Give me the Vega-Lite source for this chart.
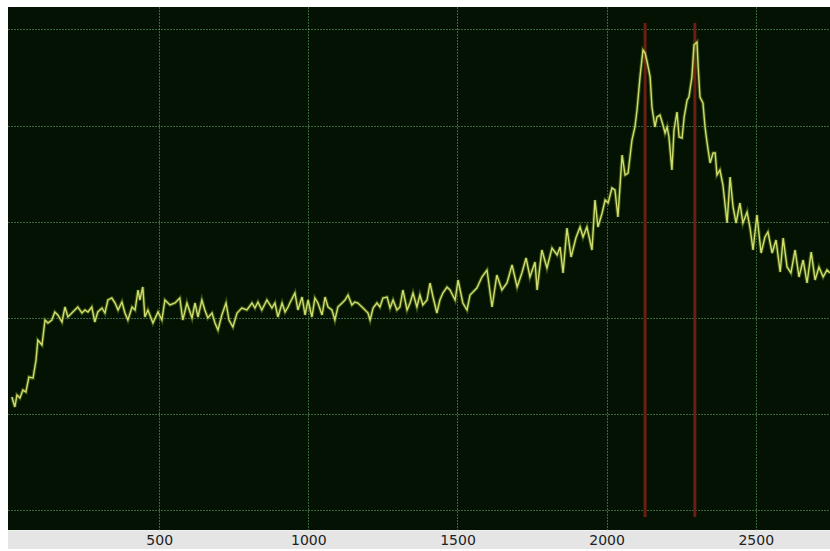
{
  "$schema": "https://vega.github.io/schema/vega-lite/v6.json",
  "width": 822,
  "height": 523,
  "autosize": {"type": "none"},
  "padding": {"left": 8, "top": 7, "right": 0, "bottom": 21},
  "background": "white",
  "config": {"view": {"fill": "#031203", "stroke": null}},
  "datasets": {
    "spectrum": [
      {"x":6,"y":113},{"x":16,"y":103},{"x":23,"y":115},{"x":33,"y":112},{"x":43,"y":120},{"x":53,"y":118},{"x":63,"y":133},{"x":77,"y":132},{"x":87,"y":150},{"x":93,"y":170},{"x":107,"y":165},{"x":117,"y":190},{"x":127,"y":187},{"x":140,"y":190},{"x":150,"y":198},{"x":160,"y":195},{"x":174,"y":188},{"x":184,"y":203},{"x":194,"y":193},{"x":207,"y":197},{"x":217,"y":200},{"x":227,"y":203},{"x":241,"y":197},{"x":251,"y":200},{"x":261,"y":198},{"x":274,"y":203},{"x":284,"y":188},{"x":294,"y":198},{"x":308,"y":202},{"x":318,"y":197},{"x":328,"y":210},{"x":341,"y":212},{"x":352,"y":207},{"x":362,"y":200},{"x":375,"y":208},{"x":385,"y":197},{"x":395,"y":190},{"x":409,"y":203},{"x":419,"y":200},{"x":429,"y":220},
      {"x":435,"y":210},{"x":445,"y":223},{"x":452,"y":193},{"x":462,"y":200},{"x":479,"y":187},{"x":496,"y":198},{"x":509,"y":190},{"x":519,"y":210},{"x":536,"y":205},{"x":553,"y":207},{"x":569,"y":212},{"x":579,"y":190},{"x":593,"y":207},{"x":610,"y":192},{"x":620,"y":207},{"x":630,"y":193},{"x":643,"y":210},{"x":653,"y":200},{"x":663,"y":192},{"x":677,"y":197},{"x":687,"y":187},{"x":697,"y":180},{"x":710,"y":195},{"x":724,"y":207},{"x":734,"y":190},{"x":747,"y":183},{"x":761,"y":197},{"x":777,"y":202},{"x":794,"y":200},{"x":811,"y":207},{"x":821,"y":202},{"x":831,"y":208},{"x":844,"y":200},{"x":861,"y":210},{"x":878,"y":202},{"x":888,"y":207},{"x":898,"y":193},{"x":912,"y":207},{"x":922,"y":198},{"x":932,"y":203},
      {"x":938,"y":207},{"x":955,"y":217},{"x":965,"y":200},{"x":979,"y":213},{"x":989,"y":195},{"x":999,"y":210},{"x":1012,"y":193},{"x":1022,"y":212},{"x":1032,"y":207},{"x":1046,"y":195},{"x":1056,"y":213},{"x":1066,"y":203},{"x":1079,"y":200},{"x":1089,"y":190},{"x":1099,"y":203},{"x":1113,"y":207},{"x":1123,"y":210},{"x":1133,"y":215},{"x":1146,"y":205},{"x":1156,"y":208},{"x":1166,"y":207},{"x":1180,"y":203},{"x":1190,"y":200},{"x":1200,"y":197},{"x":1207,"y":190},{"x":1217,"y":202},{"x":1230,"y":207},{"x":1240,"y":203},{"x":1250,"y":212},{"x":1264,"y":213},{"x":1274,"y":202},{"x":1284,"y":210},{"x":1297,"y":200},{"x":1307,"y":203},{"x":1317,"y":220},{"x":1331,"y":200},{"x":1341,"y":207},{"x":1351,"y":217},{"x":1364,"y":203},{"x":1374,"y":215},{"x":1384,"y":205},{"x":1398,"y":210},{"x":1408,"y":227},{"x":1418,"y":213},{"x":1431,"y":197},{"x":1441,"y":210},{"x":1451,"y":217},{"x":1465,"y":223},{"x":1475,"y":220},
      {"x":1492,"y":210},{"x":1502,"y":230},{"x":1518,"y":207},{"x":1532,"y":200},{"x":1542,"y":215},{"x":1565,"y":222},{"x":1582,"y":233},{"x":1599,"y":240},{"x":1616,"y":203},{"x":1632,"y":235},{"x":1649,"y":220},{"x":1666,"y":227},{"x":1683,"y":245},{"x":1700,"y":223},{"x":1716,"y":237},{"x":1730,"y":252},{"x":1743,"y":233},{"x":1760,"y":248},{"x":1767,"y":220},{"x":1783,"y":260},{"x":1800,"y":242},{"x":1817,"y":262},{"x":1834,"y":255},{"x":1844,"y":263},{"x":1854,"y":237},{"x":1867,"y":282},{"x":1881,"y":253},{"x":1897,"y":272},{"x":1911,"y":283},{"x":1921,"y":273},{"x":1934,"y":283},{"x":1951,"y":260},{"x":1961,"y":310},{"x":1971,"y":283},{"x":1985,"y":297},{"x":1995,"y":310},
      {"x":2005,"y":307},{"x":2018,"y":322},{"x":2028,"y":320},{"x":2038,"y":293},{"x":2052,"y":355},{"x":2062,"y":335},{"x":2072,"y":337},{"x":2085,"y":370},{"x":2095,"y":383},{"x":2102,"y":400},{"x":2112,"y":433},{"x":2122,"y":460},{"x":2129,"y":457},{"x":2136,"y":448},{"x":2146,"y":433},{"x":2152,"y":403},{"x":2162,"y":383},{"x":2169,"y":393},{"x":2179,"y":395},{"x":2189,"y":385},{"x":2196,"y":377},{"x":2203,"y":383},{"x":2209,"y":373},{"x":2219,"y":340},{"x":2226,"y":380},{"x":2236,"y":398},{"x":2243,"y":373},{"x":2253,"y":372},{"x":2260,"y":393},{"x":2270,"y":410},{"x":2276,"y":413},{"x":2286,"y":433},{"x":2293,"y":465},{"x":2303,"y":468},{"x":2307,"y":443},{"x":2313,"y":413},{"x":2323,"y":407},{"x":2330,"y":383},{"x":2337,"y":367},{"x":2347,"y":347},{"x":2357,"y":357},{"x":2364,"y":357},{"x":2370,"y":335},
      {"x":2380,"y":340},{"x":2390,"y":325},{"x":2404,"y":287},{"x":2414,"y":333},{"x":2424,"y":303},{"x":2434,"y":287},{"x":2447,"y":307},{"x":2457,"y":287},{"x":2471,"y":298},{"x":2481,"y":282},{"x":2491,"y":260},{"x":2504,"y":295},{"x":2518,"y":257},{"x":2531,"y":273},{"x":2541,"y":278},{"x":2555,"y":257},{"x":2568,"y":270},{"x":2582,"y":238},{"x":2592,"y":272},{"x":2605,"y":243},{"x":2618,"y":237},{"x":2632,"y":260},{"x":2645,"y":233},{"x":2659,"y":250},{"x":2672,"y":227},{"x":2686,"y":258},{"x":2699,"y":230},{"x":2712,"y":243},{"x":2726,"y":233},{"x":2739,"y":240},{"x":2749,"y":237}
    ],
    "markers": [{"x": 2129}, {"x": 2296}],
    "strip": [{"x0": -7, "x1": 2749}]
  },
  "resolve": {"axis": {"x": "independent"}},
  "layer": [
    {
      "data": {"name": "markers"},
      "mark": {"type": "rule", "color": "#6a1f10", "strokeWidth": 3},
      "encoding": {
        "x": {
          "field": "x", "type": "quantitative",
          "scale": {"domain": [-7, 2749], "nice": false, "zero": false},
          "axis": {
            "orient": "top", "title": null, "values": [500, 1000, 1500, 2000, 2500],
            "grid": true, "gridColor": "#74bd74", "gridDash": [1, 2], "gridWidth": 1,
            "ticks": false, "labels": false, "domain": false, "maxExtent": 0, "minExtent": 0, "zindex": 0
          }
        },
        "y": {"datum": 487, "type": "quantitative", "scale": {"domain": [-20, 503], "nice": false, "zero": false},
          "axis": {"title": null, "values": [0, 96, 192, 288, 384, 481], "labels": false, "ticks": false, "domain": false,
            "grid": true, "gridColor": "#74bd74", "gridDash": [1, 2], "gridWidth": 1}},
        "y2": {"datum": -7}
      }
    },
    {
      "data": {"name": "strip"},
      "mark": {"type": "rect", "color": "#e5e5e5", "clip": false},
      "encoding": {
        "x": {
          "field": "x0", "type": "quantitative",
          "axis": {
            "orient": "bottom", "title": null, "values": [500, 1000, 1500, 2000, 2500], "format": "d",
            "grid": false, "ticks": false, "tickSize": 0, "domain": false,
            "labelFont": "DejaVu Sans", "labelFontSize": 14, "labelFontWeight": "normal", "labelColor": "#222222",
            "labelBaseline": "middle", "labelPadding": 10, "labelFlush": false, "zindex": 1
          }
        },
        "x2": {"field": "x1"},
        "y": {"datum": -20.5, "type": "quantitative"},
        "y2": {"datum": -39}
      }
    },
    {
      "data": {"name": "spectrum"},
      "mark": {"type": "line", "color": "#5d7d1c", "strokeWidth": 3.5, "opacity": 0.55},
      "encoding": {
        "x": {"field": "x", "type": "quantitative", "axis": null},
        "y": {"field": "y", "type": "quantitative"}
      }
    },
    {
      "data": {"name": "spectrum"},
      "mark": {"type": "line", "color": "#d2dc6e", "strokeWidth": 1.4},
      "encoding": {
        "x": {"field": "x", "type": "quantitative", "axis": null},
        "y": {"field": "y", "type": "quantitative"}
      }
    }
  ]
}
